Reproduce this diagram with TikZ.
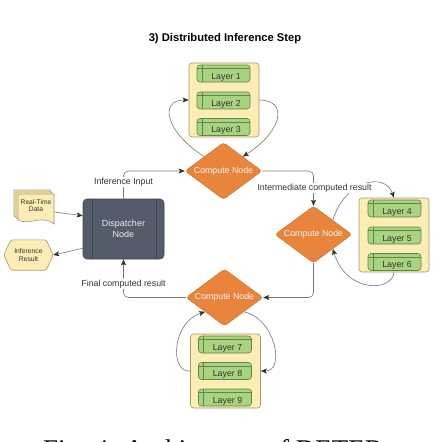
\documentclass[tikz,border=0pt]{standalone}
\usepackage{fontspec}
\setmainfont{Liberation Sans}
\newfontfamily\capfont{Liberation Serif}
\usetikzlibrary{arrows.meta,shapes.geometric,calc}
\definecolor{orng}{HTML}{E8843B}
\definecolor{orngb}{HTML}{C96E2C}
\definecolor{ylw}{HTML}{FCEDB6}
\definecolor{ylwb}{HTML}{A8966C}
\definecolor{grn}{HTML}{A9D47F}
\definecolor{grnb}{HTML}{62844A}
\definecolor{slate}{HTML}{545C69}
\definecolor{slateb}{HTML}{3F454F}
\definecolor{lnc}{HTML}{777777}
\definecolor{tipc}{HTML}{333333}
\definecolor{txt}{HTML}{333333}
\begin{document}
\begin{tikzpicture}[x=1pt,y=-1pt,
  every node/.style={text=txt},
  lbl/.style={font=\fontsize{8.8}{10}\selectfont, fill=white, inner sep=1pt},
  arr/.style={draw=lnc, line width=0.6pt, -{Stealth[length=6pt,width=5pt,inset=1.2pt,color=tipc]}, rounded corners=5pt},
  loop/.style={draw=lnc, line width=0.6pt, -{Stealth[length=6pt,width=5pt,inset=1.2pt,color=tipc]}},
  compnode/.style={shape=diamond, aspect=1.35, minimum width=77pt, minimum height=57pt, inner sep=0pt,
    fill=orng, draw=orngb, line width=0.4pt, rounded corners=3pt, text=white!92!orng,
    font=\fontsize{8.8}{10}\selectfont},
  lbox/.style={draw=ylwb, fill=ylw, line width=0.6pt, rounded corners=3pt, minimum width=70pt, minimum height=74pt, inner sep=0pt},
  layerbox/.style={draw=grnb, fill=grn, line width=0.6pt, rounded corners=3pt, minimum width=53pt, minimum height=17pt, inner sep=0pt,
    path picture={
      \draw[grnb, line width=0.6pt] ([xshift=5pt]path picture bounding box.north west) -- ([xshift=5pt]path picture bounding box.south west);
      \draw[grnb, line width=0.6pt] ([yshift=-3.5pt]path picture bounding box.north west) -- ([yshift=-3.5pt]path picture bounding box.north east);}},
  ltext/.style={font=\fontsize{8.8}{10}\selectfont, inner sep=0pt},
  docst/.style={draw=ylwb, fill=ylw, line width=0.6pt}
]
\useasboundingbox (0,0) rectangle (440,442);
\clip (0,0) rectangle (440,442);

% title
\node[font=\bfseries\fontsize{11.2}{13}\selectfont, text=black] (title) at (225,39) {3) Distributed Inference Step};

% layer boxes
\node[lbox] (lb1) at (224,100) {};
\node[layerbox] (l1) at (223.5,73.5) {};
\node[layerbox] (l2) at (223.5,100.5) {};
\node[layerbox] (l3) at (223.5,127) {};
\node[ltext] (t1) at ([shift={(2.5,3.4)}]l1.center) {Layer 1};
\node[ltext] (t2) at ([shift={(2.5,3.4)}]l2.center) {Layer 2};
\node[ltext] (t3) at ([shift={(2.5,3.4)}]l3.center) {Layer 3};

\node[lbox] (lb2) at (394,235) {};
\node[layerbox] (l4) at (394.5,208.5) {};
\node[layerbox] (l5) at (394.5,235.5) {};
\node[layerbox] (l6) at (394.5,262) {};
\node[ltext] (t4) at ([shift={(2.5,3.4)}]l4.center) {Layer 4};
\node[ltext] (t5) at ([shift={(2.5,3.4)}]l5.center) {Layer 5};
\node[ltext] (t6) at ([shift={(2.5,3.4)}]l6.center) {Layer 6};

\node[lbox] (lb3) at (225.5,371) {};
\node[layerbox] (l7) at (225,344.5) {};
\node[layerbox] (l8) at (225,371) {};
\node[layerbox] (l9) at (225,397.5) {};
\node[ltext] (t7) at ([shift={(2.5,3.4)}]l7.center) {Layer 7};
\node[ltext] (t8) at ([shift={(2.5,3.4)}]l8.center) {Layer 8};
\node[ltext] (t9) at ([shift={(2.5,3.4)}]l9.center) {Layer 9};

% compute nodes
\node[compnode] (c1) at (223.5,171) {Compute Node};
\node[compnode] (c2) at (313.5,234.5) {Compute Node};
\node[compnode] (c3) at (224.5,297.5) {Compute Node};

% dispatcher
\node[draw=slateb, fill=slate, line width=0.6pt, rounded corners=4pt, minimum width=81pt, minimum height=60pt, inner sep=0pt,
  text=white!88!slate, align=center, font=\fontsize{9}{11}\selectfont,
  path picture={
    \draw[slateb, line width=0.6pt] ([xshift=9pt]path picture bounding box.north west) -- ([xshift=9pt]path picture bounding box.south west);
    \draw[slateb, line width=0.6pt] ([xshift=-8pt]path picture bounding box.north east) -- ([xshift=-8pt]path picture bounding box.south east);}]
  (disp) at (123.5,229) {Dispatcher\\Node};

% real-time data (stacked documents)
\foreach \dx/\dy in {14/190, 16/192, 18/194}{
  \draw[docst] (\dx,\dy+26) -- (\dx,\dy) -- (\dx+36,\dy) -- (\dx+36,\dy+30)
     .. controls (\dx+24,\dy+20) and (\dx+12,\dy+32) .. (\dx,\dy+26) -- cycle;
}
\node[align=center, font=\fontsize{6.7}{7.6}\selectfont, minimum width=36pt, minimum height=26pt, inner sep=0pt] (rtd) at (36,205.5) {Real-Time\\Data};

% inference result (hexagon)
\node[minimum width=49pt, minimum height=30pt, inner sep=0pt] (ir) at (28.5,255) {};
\fill[ylw] (ir.west) -- ([xshift=7pt]ir.north west) -- ([xshift=-7pt]ir.north east) -- (ir.east) -- ([xshift=-7pt]ir.south east) -- ([xshift=7pt]ir.south west) -- cycle;
\draw[ylwb, line width=0.6pt, rounded corners=1.5pt] (ir.west) -- ([xshift=7pt]ir.north west) -- ([xshift=-7pt]ir.north east) -- (ir.east) -- ([xshift=-7pt]ir.south east) -- ([xshift=7pt]ir.south west) -- cycle;
\node[align=center, font=\fontsize{6.8}{8.3}\selectfont, inner sep=0pt] (irt) at (ir.center) {Inference\\Result};

% straight connectors
\draw[arr] ($(rtd.east)+(0,6.5)$) -- ($(disp.north west)+(0,17)$);
\draw[arr] ($(disp.south west)+(0,-11)$) -- (ir.east);
\draw[arr] (disp.north) |- (c1.west) node[lbl, pos=0.3] (lin) {Inference Input};
\draw[arr] (c1.east) -| (c2.north);
\draw[arr] (c2.south) |- (c3.east);
\draw[arr] (c3.west) -| (disp.south) node[lbl, pos=0.68] (lfin) {Final computed result};

% loops
\draw[loop] (c1.north west) .. controls +(-40,-26) and +(-29,0) .. (lb1.west);
\draw[loop] (lb1.east) .. controls +(29,0) and +(40,-26) .. (c1.north east);
\draw[loop] (c2.north east) .. controls +(12,-40) and +(-9,-26) .. (lb2.north);
\draw[loop] (lb2.south) .. controls +(-2,20) and +(13,44) .. (c2.south east);
\draw[loop] (lb3.west) .. controls +(-21,2) and +(-33,10) .. (c3.south west);
\draw[loop] (c3.south east) .. controls +(31,6) and +(25,0) .. (lb3.east);

\node[lbl] (lint) at (314.5,188) {Intermediate computed result};

% caption (cut off at the bottom edge, as in the reference)
\node[anchor=base west, inner sep=0pt, text=black, font=\capfont\fontsize{27}{30}\selectfont] (cap) at (43,458) {Fig. 4: Architecture of DETER};
\end{tikzpicture}
\end{document}
